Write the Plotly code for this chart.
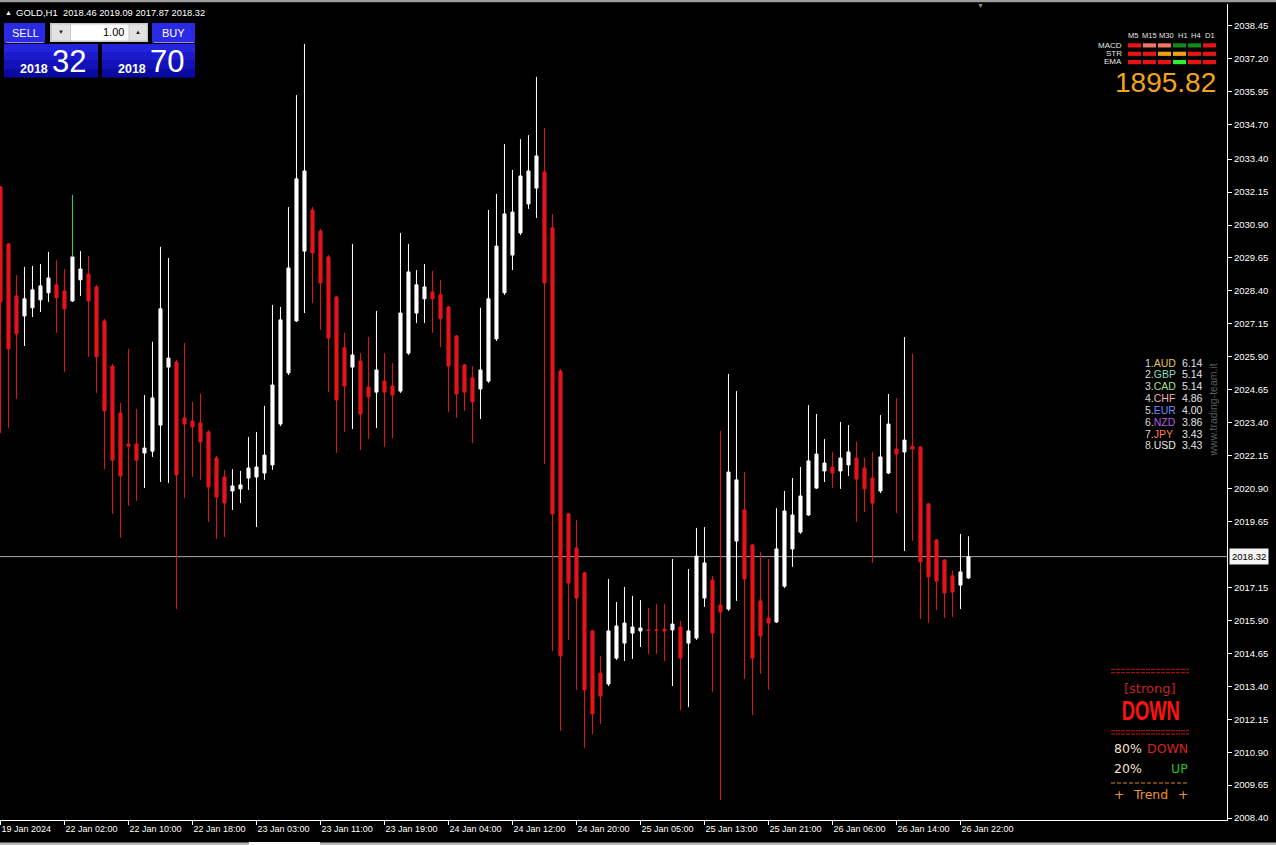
import plotly.graph_objects as go

# ---------------- data (GOLD, H1) ----------------
opens = [2032.34, 2030.18, 2028.21, 2027.45, 2027.76, 2028.06, 2028.33, 2028.63, 2028.40, 2028.02,
         2028.82, 2029.04, 2028.55, 2027.26, 2025.55, 2023.77, 2022.59, 2022.59, 2022.25, 2022.32,
         2023.31, 2025.51, 2025.70, 2023.58, 2023.46, 2023.39, 2023.05, 2022.06, 2021.34, 2020.81,
         2020.89, 2021.30, 2021.34, 2021.49, 2021.80, 2023.35, 2025.29, 2027.26, 2029.91, 2031.47,
         2030.67, 2029.69, 2028.17, 2026.24, 2025.51, 2025.74, 2024.75, 2024.56, 2024.98, 2024.79,
         2024.60, 2026.04, 2027.56, 2028.10, 2028.36, 2028.25, 2027.79, 2026.69, 2025.59, 2025.10,
         2024.68, 2024.98, 2026.58, 2028.33, 2029.76, 2030.60, 2031.70, 2032.30, 2032.91, 2030.79,
         2025.36, 2019.94, 2018.65, 2017.70, 2015.50, 2013.90, 2013.49, 2014.47, 2015.04, 2015.42,
         2015.50, 2015.54, 2015.54, 2015.57, 2015.54, 2015.65, 2015.04, 2015.23, 2016.75, 2017.43,
         2016.48, 2016.33, 2018.91, 2020.09, 2018.76, 2016.64, 2015.99, 2015.84, 2017.20, 2018.61,
         2019.25, 2019.90, 2020.92, 2021.57, 2021.72, 2021.57, 2021.80, 2022.06, 2021.68, 2021.30,
         2020.81, 2021.49, 2022.40, 2022.29, 2022.51, 2022.48, 2020.32, 2018.95, 2018.19, 2017.59,
         2017.24, 2017.51]
highs = [2032.38, 2030.22, 2029.00, 2029.31, 2029.35, 2029.42, 2029.88, 2029.57, 2029.23, 2032.04,
         2029.91, 2029.72, 2028.63, 2027.34, 2025.63, 2024.15, 2026.20, 2023.92, 2024.45, 2026.47,
         2030.07, 2029.65, 2025.78, 2026.42, 2024.19, 2024.49, 2023.12, 2022.14, 2021.61, 2021.64,
         2021.57, 2022.86, 2023.05, 2024.04, 2027.87, 2027.79, 2031.58, 2035.83, 2037.77, 2031.58,
         2030.75, 2029.76, 2028.21, 2026.81, 2030.18, 2026.04, 2026.65, 2027.64, 2026.04, 2025.66,
         2030.60, 2030.18, 2029.19, 2029.42, 2029.16, 2028.82, 2027.83, 2026.73, 2025.63, 2025.55,
         2027.76, 2031.47, 2032.08, 2033.97, 2032.99, 2034.16, 2034.31, 2036.52, 2034.58, 2031.32,
         2025.44, 2019.97, 2019.71, 2017.74, 2015.54, 2014.55, 2017.47, 2016.60, 2017.17, 2016.83,
         2016.67, 2016.37, 2016.52, 2016.52, 2018.23, 2015.88, 2017.85, 2019.41, 2019.44, 2017.59,
         2023.09, 2025.25, 2024.60, 2021.53, 2018.80, 2018.49, 2018.23, 2020.16, 2020.81, 2021.30,
         2021.72, 2024.07, 2023.73, 2022.78, 2022.29, 2023.43, 2023.31, 2022.67, 2022.06, 2022.29,
         2023.69, 2024.49, 2024.34, 2026.65, 2026.01, 2022.51, 2020.35, 2018.99, 2018.23, 2017.78,
         2019.18, 2019.09]
lows = [2023.01, 2023.20, 2024.30, 2026.31, 2027.41, 2027.60, 2027.98, 2026.81, 2025.33, 2027.98,
        2028.21, 2025.90, 2024.53, 2021.64, 2019.94, 2019.03, 2020.24, 2020.43, 2020.92, 2022.10,
        2021.15, 2021.11, 2016.33, 2020.54, 2021.34, 2021.23, 2019.63, 2018.99, 2019.06, 2020.09,
        2020.35, 2020.85, 2019.44, 2021.23, 2021.61, 2023.27, 2025.21, 2027.22, 2027.56, 2027.94,
        2026.92, 2024.56, 2022.25, 2023.05, 2023.16, 2022.36, 2022.78, 2023.20, 2022.48, 2022.82,
        2024.53, 2025.97, 2027.18, 2027.18, 2026.81, 2026.27, 2023.81, 2023.58, 2023.85, 2022.63,
        2023.54, 2024.91, 2026.50, 2028.25, 2029.19, 2030.52, 2031.51, 2031.17, 2021.83, 2014.74,
        2011.71, 2015.16, 2013.26, 2011.06, 2011.59, 2011.97, 2013.41, 2014.40, 2014.36, 2014.44,
        2014.89, 2014.63, 2014.63, 2014.36, 2013.41, 2012.50, 2012.61, 2015.16, 2016.41, 2013.18,
        2009.09, 2016.26, 2016.64, 2013.68, 2012.31, 2013.87, 2013.26, 2015.80, 2017.13, 2017.93,
        2019.18, 2019.86, 2020.89, 2021.15, 2020.92, 2020.89, 2021.38, 2019.63, 2020.01, 2018.08,
        2020.73, 2021.45, 2019.97, 2018.53, 2018.91, 2015.95, 2015.80, 2016.29, 2015.99, 2016.03,
        2016.33, 2017.47]
closes = [2027.98, 2026.20, 2026.77, 2028.10, 2028.44, 2028.59, 2028.89, 2028.14, 2027.72, 2029.69,
          2029.23, 2028.02, 2025.90, 2023.85, 2021.98, 2021.38, 2022.51, 2021.98, 2022.44, 2024.34,
          2027.72, 2025.85, 2021.42, 2023.35, 2023.24, 2022.67, 2020.96, 2020.58, 2020.35, 2021.00,
          2021.04, 2021.68, 2021.72, 2022.17, 2024.83, 2027.30, 2029.27, 2032.65, 2032.95, 2029.84,
          2028.70, 2026.61, 2024.26, 2024.79, 2025.97, 2023.73, 2024.38, 2025.40, 2024.56, 2024.45,
          2027.56, 2029.12, 2028.63, 2028.55, 2028.10, 2027.34, 2025.55, 2024.49, 2024.56, 2024.19,
          2025.40, 2028.10, 2030.10, 2031.32, 2031.39, 2032.76, 2032.95, 2033.52, 2028.70, 2019.94,
          2014.55, 2017.32, 2016.75, 2013.26, 2012.35, 2013.03, 2015.50, 2015.69, 2015.80, 2015.65,
          2015.61, 2015.52, 2015.52, 2015.50, 2015.76, 2014.47, 2015.50, 2018.34, 2018.08, 2015.42,
          2016.22, 2021.53, 2021.23, 2017.47, 2014.47, 2015.31, 2015.80, 2018.61, 2020.05, 2019.90,
          2020.62, 2021.95, 2022.21, 2021.87, 2021.49, 2022.06, 2022.29, 2021.26, 2020.89, 2020.35,
          2022.10, 2023.35, 2022.21, 2022.74, 2022.40, 2018.12, 2017.55, 2017.39, 2016.94, 2016.98,
          2017.74, 2018.32]
bar_index = list(range(len(opens)))

time_tick_bars = [0, 8, 16, 24, 32, 40, 48, 56, 64, 72, 80, 88, 96, 104, 112, 120]
time_tick_labels = ["19 Jan 2024", "22 Jan 02:00", "22 Jan 10:00", "22 Jan 18:00", "23 Jan 03:00",
                    "23 Jan 11:00", "23 Jan 19:00", "24 Jan 04:00", "24 Jan 12:00", "24 Jan 20:00",
                    "25 Jan 05:00", "25 Jan 13:00", "25 Jan 21:00", "26 Jan 06:00", "26 Jan 14:00",
                    "26 Jan 22:00"]
price_tick_labels = ["2038.45", "2037.20", "2035.95", "2034.70", "2033.40", "2032.15", "2030.90",
                     "2029.65", "2028.40", "2027.15", "2025.90", "2024.65", "2023.40", "2022.15",
                     "2020.90", "2019.65", "2017.15", "2015.90", "2014.65", "2013.40", "2012.15",
                     "2010.90", "2009.65", "2008.40"]
last_price = 2018.32
symbol = "GOLD,H1"
header_ohlc = ["2018.46", "2019.09", "2017.87", "2018.32"]
bid_parts = ["2018", "32"]
ask_parts = ["2018", "70"]
lot_size = "1.00"
green_wick_bar = 9

tf_labels = ["M5", "M15", "M30", "H1", "H4", "D1"]
signal_rows = ["MACD", "STR", "EMA"]
signal_colors = [
    ["#E81414", "#F07466", "#F07466", "#138A13", "#138A13", "#E81414"],
    ["#E81414", "#E81414", "#F0A010", "#F0A010", "#E81414", "#E81414"],
    ["#E81414", "#E81414", "#E81414", "#2EEE2E", "#E81414", "#E81414"],
]
big_value = "1895.82"

cur_names = ["AUD", "GBP", "CAD", "CHF", "EUR", "NZD", "JPY", "USD"]
cur_values = ["6.14", "5.14", "5.14", "4.86", "4.00", "3.86", "3.43", "3.43"]
cur_colors = ["#E6C25A", "#86DDBE", "#A6E08A", "#EEB4B4", "#6E8CFF", "#B45CE6", "#FF7A5A", "#E8E8E8"]
watermark = "www.trading-team.it"

trend_strength = "[strong]"
trend_dir = "DOWN"
pct_down = "80%"
pct_up = "20%"

# ---------------- geometry ----------------
W, H = 1276, 845
PL, PR, PT, PB = 0, 1227, 4, 820
FONT = "Liberation Sans, Arial, sans-serif"
DJ = "DejaVu Sans, sans-serif"


def px(x):
    return (x - PL) / (PR - PL)


def py(y):
    return (PB - y) / (PB - PT)


shapes = []
annotations = []


def rect(x0, y0, x1, y1, fill, line=None, lw=0):
    shapes.append(dict(type="rect", xref="paper", yref="paper", x0=px(x0), x1=px(x1),
                       y0=py(y1), y1=py(y0), fillcolor=fill,
                       line=dict(color=line or fill, width=lw)))


def hline(x0, x1, y, color, width=1, dash="solid"):
    shapes.append(dict(type="line", xref="paper", yref="paper", x0=px(x0), x1=px(x1),
                       y0=py(y), y1=py(y), line=dict(color=color, width=width, dash=dash)))


def txt(x, y, s, size, color, family=FONT, xanchor="left", yanchor="middle", **kw):
    annotations.append(dict(xref="paper", yref="paper", x=px(x), y=py(y), text=s,
                            showarrow=False, font=dict(size=size, color=color, family=family),
                            xanchor=xanchor, yanchor=yanchor, borderpad=0, **kw))


fig = go.Figure()
fig.add_trace(go.Candlestick(
    x=bar_index, open=opens, high=highs, low=lows, close=closes,
    increasing=dict(line=dict(color="#FFFFFF", width=1), fillcolor="#FFFFFF"),
    decreasing=dict(line=dict(color="#E8141A", width=1), fillcolor="#E8141A"),
    whiskerwidth=0, hoverinfo="skip"))
fig.add_trace(go.Scatter(x=[bar_index[green_wick_bar]] * 2,
                         y=[closes[green_wick_bar], highs[green_wick_bar]],
                         mode="lines", line=dict(color="#2ED02E", width=1), hoverinfo="skip"))

# current price line + label
shapes.append(dict(type="line", xref="paper", yref="y", x0=0, x1=1, y0=last_price, y1=last_price,
                   line=dict(color="#A8A8A8", width=1), layer="below"))
annotations.append(dict(xref="paper", yref="y", x=px(1228.5), y=last_price, text=f"{last_price:.2f}",
                        showarrow=False, xanchor="left", yanchor="middle",
                        font=dict(size=9.5, color="#000000", family=FONT),
                        bgcolor="#F4F4F4", borderpad=2))

# window frame strips
rect(0, 0, 1276, 2.2, "#9C9C9C")
rect(0, 842.6, 1276, 845, "#B8B8B8")
rect(249, 842.0, 320, 845, "#FFFFFF")
txt(980, 5.5, "▼", 7, "#8C8C8C", xanchor="center")

# ---- top-left header ----
txt(3.5, 13, "▲", 7, "#FFFFFF")
txt(15, 13, symbol, 9.5, "#FFFFFF")
txt(62, 13, " ".join(header_ohlc), 9.3, "#FFFFFF")

# ---- trade panel ----
BTN = "#2A2AE4"
rect(4, 23, 45, 43, BTN)
hline(6, 44, 42.5, "#8A8AF4")
rect(152, 23, 195, 43, BTN)
hline(154, 194, 42.5, "#8A8AF4")
for (bx0, bx1) in [(4, 98), (102, 195)]:
    rect(bx0, 44, bx1, 52, "#2424DC")
    rect(bx0, 52, bx1, 60, "#1B1BCB")
    rect(bx0, 60, bx1, 69, "#1212B8")
    rect(bx0, 69, bx1, 77.5, "#0A0AA2")
rect(50, 23, 148, 42, "#C8C8C8")
rect(52, 24.5, 70, 40.5, "#E2E2E2")
rect(71, 24.5, 128.5, 40.5, "#FFFFFF")
rect(129.5, 24.5, 146.5, 40.5, "#E2E2E2")
txt(61, 32.5, "▼", 6, "#202020", xanchor="center")
txt(138, 32.5, "▲", 6, "#202020", xanchor="center")
txt(125, 32.5, lot_size, 11, "#000000", xanchor="right")
txt(25, 33, "SELL", 11, "#FFFFFF", xanchor="center")
txt(173, 33, "BUY", 11, "#FFFFFF", xanchor="center")
txt(19, 68.5, "<b>" + bid_parts[0] + "</b>", 12.5, "#FFFFFF")
txt(51, 62, bid_parts[1], 31, "#FFFFFF")
txt(117, 68.5, "<b>" + ask_parts[0] + "</b>", 12.5, "#FFFFFF")
txt(149, 62, ask_parts[1], 31, "#FFFFFF")

# ---- signal matrix ----
tf_x = [1132.5, 1149.5, 1166.5, 1182.5, 1195.5, 1209.5]
for c, lab in enumerate(tf_labels):
    txt(tf_x[c], 35.5, lab, 7.5, "#E6E6E6", xanchor="center")
row_y = [43.3, 51.7, 60.0]
for r, name in enumerate(signal_rows):
    txt(1123, row_y[r] + 2, name, 8, "#E6E6E6", xanchor="right")
    for c, col in enumerate(signal_colors[r]):
        rect(1128 + 15 * c, row_y[r], 1141 + 15 * c, row_y[r] + 4.2, col)
txt(1217, 83, big_value, 28, "#F2A31E", xanchor="right")

# ---- currency strength ----
for k, (nm, val, col) in enumerate(zip(cur_names, cur_values, cur_colors)):
    yy = 362.5 + 11.85 * k
    txt(1143.5, yy, f"<span style='color:#D8D8D8'>{k + 1}.</span>{nm}", 10.5, col)
    txt(1181, yy, val, 10.5, "#E4E4E4")
txt(1212.5, 410, watermark, 10.5, "#5E5E5E", xanchor="center", textangle=-90)

# ---- trend panel ----
for yy in (669.3, 672.7, 730.7, 734.0):
    hline(1111, 1189, yy, "#C41616", 1, "4px,1px")
txt(1150, 688.5, trend_strength, 13, "#C42222", family=DJ, xanchor="center")
txt(1150, 711, "<b>" + trend_dir + "</b>", 27, "#FF1212", family=FONT, xanchor="center")
txt(1113, 748.5, pct_down, 12.5, "#F2E2CC", family=DJ)
txt(1188.5, 748.5, "DOWN", 12.5, "#D82020", family=DJ, xanchor="right")
txt(1113, 768.5, pct_up, 12.5, "#F2E2CC", family=DJ)
txt(1188.5, 768.5, "UP", 12.5, "#22C422", family=DJ, xanchor="right")
hline(1111, 1189, 783, "#E0861E", 1, "4px,2px")
txt(1113, 794, "+", 12.5, "#EE9433", family=DJ)
txt(1150, 794, "Trend", 12.5, "#EE9433", family=DJ, xanchor="center")
txt(1188.5, 794, "+", 12.5, "#EE9433", family=DJ, xanchor="right")

fig.update_layout(
    width=W, height=H,
    margin=dict(l=PL, r=W - PR, t=PT, b=H - PB, pad=0),
    paper_bgcolor="#000000", plot_bgcolor="#000000",
    showlegend=False, hovermode=False, boxgap=0.45,
    shapes=shapes, annotations=annotations,
    xaxis=dict(range=[-0.06, -0.06 + (PR - PL) / 8.0], showgrid=False, zeroline=False,
               rangeslider=dict(visible=False), tickmode="array", tickvals=time_tick_bars,
               ticktext=time_tick_labels, ticks="outside", ticklen=4, tickcolor="#FFFFFF",
               ticklabelposition="outside right", showline=True, linecolor="#FFFFFF",
               linewidth=1, tickfont=dict(size=9, color="#FFFFFF", family=FONT)),
    yaxis=dict(range=[2008.328, 2039.284], side="right", showgrid=False, zeroline=False,
               tickmode="array", tickvals=[float(s) for s in price_tick_labels],
               ticktext=price_tick_labels, ticks="outside", ticklen=4, tickcolor="#FFFFFF",
               showline=True, linecolor="#FFFFFF", linewidth=1,
               tickfont=dict(size=9.5, color="#FFFFFF", family=FONT)),
)

post = """
document.body.style.margin='0';document.body.style.overflow='hidden';
document.querySelectorAll('text.annotation-text').forEach(function(t){
  if(t.textContent==='DOWN' && parseFloat(t.style.fontSize)>20){
    t.style.transformBox='fill-box'; t.style.transformOrigin='center';
    t.style.transform='scaleX(0.68)';
  }
});
"""
fig.write_html("out.html", config={"displayModeBar": False}, post_script=post)
